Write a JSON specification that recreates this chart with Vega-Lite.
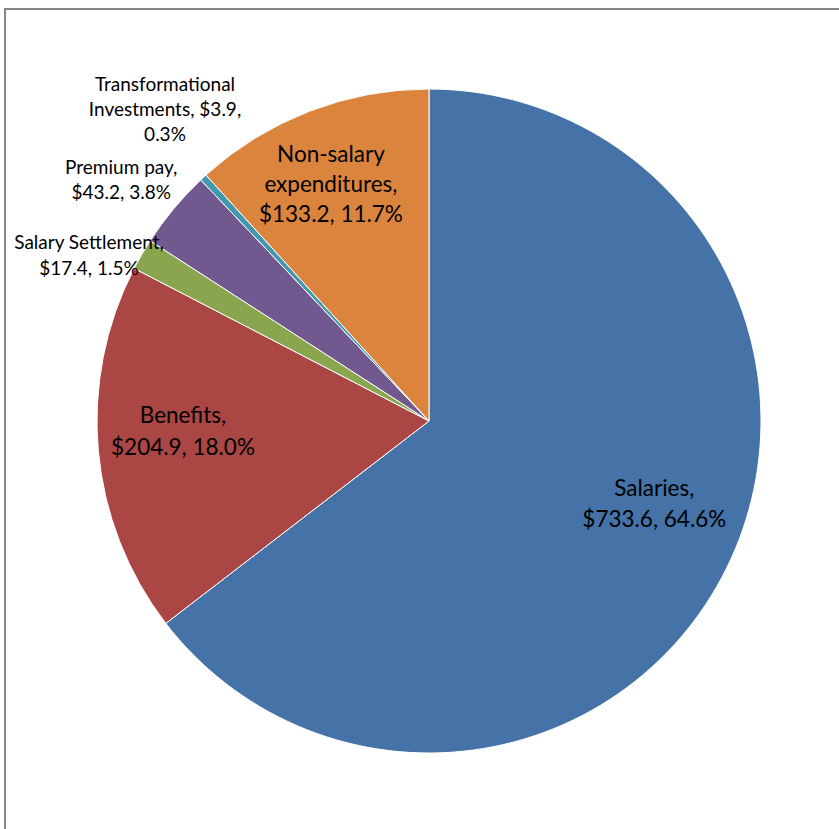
{
  "$schema": "https://vega.github.io/schema/vega-lite/v6.json",
  "width": 848,
  "height": 824,
  "autosize": {"type": "none"},
  "padding": {"left": 5, "top": 9, "right": 0, "bottom": 0},
  "background": "white",
  "view": {"stroke": "#878787", "strokeWidth": 2, "fill": "white"},
  "config": {"view": {"stroke": "#878787", "strokeWidth": 2}, "text": {"lineBreak": "\n"}},
  "data": {"values": [
    {"category": "Salaries", "value": 733.6, "label": "Salaries,\n$733.6, 64.6%"},
    {"category": "Benefits", "value": 204.9, "label": "Benefits,\n$204.9, 18.0%"},
    {"category": "Salary Settlement", "value": 17.4, "label": "Salary Settlement,\n$17.4, 1.5%"},
    {"category": "Premium pay", "value": 43.2, "label": "Premium pay,\n$43.2, 3.8%"},
    {"category": "Transformational Investments", "value": 3.9, "label": "Transformational\nInvestments, $3.9,\n0.3%"},
    {"category": "Non-salary expenditures", "value": 133.2, "label": "Non-salary\nexpenditures,\n$133.2, 11.7%"}
  ]},
  "transform": [{"window": [{"op": "row_number", "as": "rank"}]}],
  "encoding": {
    "theta": {"field": "value", "type": "quantitative", "stack": true},
    "order": {"field": "rank", "type": "quantitative"},
    "detail": {"field": "category", "type": "nominal"}
  },
  "layer": [
    {
      "mark": {"type": "arc", "outerRadius": 332, "stroke": "white", "strokeWidth": 1},
      "encoding": {
        "color": {"field": "category", "type": "nominal", "legend": null,
          "scale": {"domain": ["Salaries", "Benefits", "Salary Settlement", "Premium pay", "Transformational Investments", "Non-salary expenditures"],
                    "range": ["#4572A7", "#AA4643", "#89A54E", "#71588F", "#4198AF", "#DB843D"]}}
      }
    },
    {
      "mark": {"type": "text", "radius": 240, "dx": 10, "dy": -38, "font": "Lato", "fontSize": 22.5, "lineHeight": 31, "align": "center", "baseline": "middle", "fill": "black"},
      "encoding": {"text": {"condition": {"test": "datum.category === 'Salaries'", "field": "label"}, "value": ""}}
    },
    {
      "mark": {"type": "text", "radius": 247, "dx": 0, "dy": -27, "font": "Lato", "fontSize": 22.5, "lineHeight": 32, "align": "center", "baseline": "middle", "fill": "black"},
      "encoding": {"text": {"condition": {"test": "datum.category === 'Benefits'", "field": "label"}, "value": ""}}
    },
    {
      "mark": {"type": "text", "radius": 253, "dx": -7, "dy": -30, "font": "Lato", "fontSize": 22.5, "lineHeight": 30, "align": "center", "baseline": "middle", "fill": "black"},
      "encoding": {"text": {"condition": {"test": "datum.category === 'Non-salary expenditures'", "field": "label"}, "value": ""}}
    },
    {
      "mark": {"type": "text", "radius": 409, "dx": 14, "dy": -36, "font": "Lato", "fontSize": 19, "lineHeight": 25, "align": "center", "baseline": "middle", "fill": "black"},
      "encoding": {"text": {"condition": {"test": "datum.category === 'Transformational Investments'", "field": "label"}, "value": ""}}
    },
    {
      "mark": {"type": "text", "radius": 391, "dx": -7, "dy": -3, "font": "Lato", "fontSize": 19, "lineHeight": 25, "align": "center", "baseline": "middle", "fill": "black"},
      "encoding": {"text": {"condition": {"test": "datum.category === 'Premium pay'", "field": "label"}, "value": ""}}
    },
    {
      "mark": {"type": "text", "radius": 378, "dx": -13, "dy": 12, "font": "Lato", "fontSize": 19, "lineHeight": 26, "align": "center", "baseline": "middle", "fill": "black"},
      "encoding": {"text": {"condition": {"test": "datum.category === 'Salary Settlement'", "field": "label"}, "value": ""}}
    }
  ]
}
